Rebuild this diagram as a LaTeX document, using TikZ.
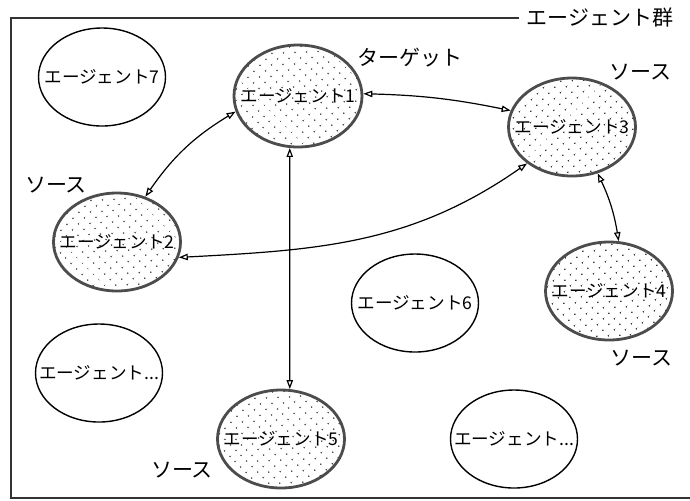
\documentclass[tikz,border=0pt]{standalone}
\usepackage{fontspec}
\setmainfont{Noto Sans CJK JP}
\usetikzlibrary{arrows.meta,shapes.geometric,patterns.meta}
\newcommand{\agname}[1]{\makebox[0pt]{#1}}

\begin{document}
\begin{tikzpicture}[x=0.5pt,y=-0.5pt,<->,>={Triangle[open,length=4.5pt,width=3.2pt]},
		line width=0.6pt,font=\fontsize{10.5}{12}\selectfont]
		\tikzstyle{agent}=[ellipse,draw,line width=0.7pt,minimum width=63.5pt,minimum height=49pt,
			inner sep=0pt,font=\fontsize{8.8}{10}\selectfont]
		\tikzstyle{source}=[agent,line width=1.4pt,draw=black!70,
			pattern={Dots[distance=4pt,radius=0.45pt,angle=45]},pattern color=black!85]
		\tikzstyle{frame}=[-,line width=0.8pt,draw=black!80]
		
		\useasboundingbox (0,0) rectangle (690,500);
		
		\node[agent]  (A7) at (102,77)  {\agname{エージェント7}};
		\node[source] (A1) at (298,96)  [minimum width=64pt,minimum height=51pt] {\agname{エージェント1}};
		\node[source] (A3) at (572,127) {\agname{エージェント3}};
		\node[source] (A2) at (117,242) {\agname{エージェント2}};
		\node[source] (A4) at (609,291) {\agname{エージェント4}};
		\node[agent]  (A6) at (415,303) {\agname{エージェント6}};
		\node[agent]  (A8) at (99,373)  {\agname{エージェント...}};
		\node[source] (A5) at (281,439) {\agname{エージェント5}};
		\node[agent]  (A9) at (514,439) {\agname{エージェント...}};
		
		\node (tgt) at (410,58)  {ターゲット};
		\node (s3)  at (640,72)  {ソース};
		\node (s2)  at (56,185)  {ソース};
		\node (s4)  at (641,358) {ソース};
		\node (s5)  at (182,470) {ソース};
		\node (grp) at (600,18)  {エージェント群};
		
		\coordinate (tl) at (11,18);
		\coordinate (bl) at (11,498);
		\coordinate (br) at (690,498);
		\draw[frame] (grp.west) -- (tl) -- (bl) -- (br);
		
		\path (A1.194) edge [bend right=12] (A2.58);
		\path (A1.2)   edge [bend left=5] (A3.165);
		\path (A2.346) edge [out=3,in=215] (A3.219);
		\path (A1.261) edge (A5.80);
		\path (A3.299) edge [bend left=8] (A4.79);
\end{tikzpicture}
\end{document}
